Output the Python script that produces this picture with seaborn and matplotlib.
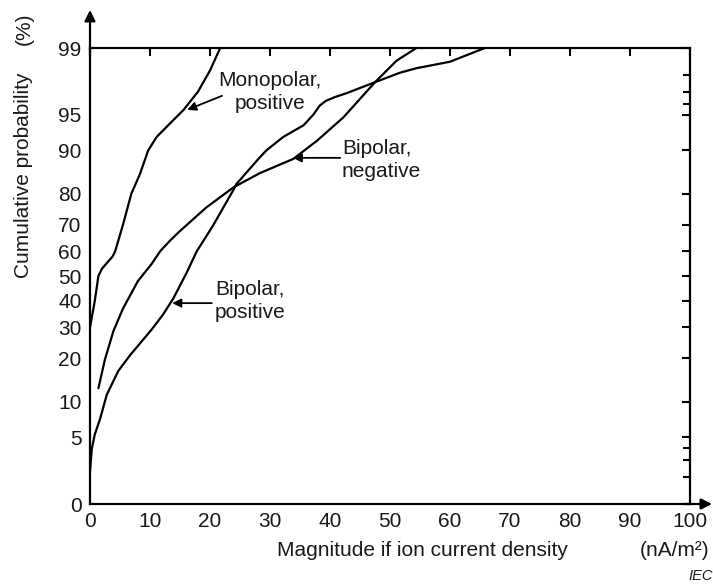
import numpy as np
import pandas as pd
import seaborn as sns
import matplotlib.pyplot as plt
from matplotlib.ticker import NullFormatter
from statistics import NormalDist

# curves: x in nA/m2, cumulative probability in %
mono_x = [0, 0.8, 1.4, 2.0, 3.8, 4.2, 5.5, 6.9, 8.3, 9.7, 11.1, 13.3, 15.6, 18.0, 20.0, 21.7]
mono_p = [30, 40, 50, 53, 58, 60, 70, 80, 85, 90, 92.2, 94.0, 95.5, 97.0, 98.2, 99]

bneg_x = [1.4, 2.5, 3.9, 5.5, 8.0, 10.3, 11.7, 13.3, 15.0, 19.4, 23.9, 28.3, 33.9, 37.8, 42.2, 47.5, 51.1, 54.4]
bneg_p = [12.6, 19.8, 28.7, 37, 48, 55, 60, 64, 67.7, 75.8, 81.7, 85.3, 88.4, 91.6, 94.7, 97.6, 98.6, 99]

bpos_x = [0, 0.3, 0.8, 1.7, 2.8, 4.7, 6.7, 10.3, 12.2, 13.9, 16.1, 17.8, 18.9, 20.6, 23.9, 24.4,
          28.3, 29.4, 32.2, 35.6, 37.2, 38.3, 39.3, 40.8, 42.8, 47.5, 51.7, 54.4, 60.0, 65.8]
bpos_p = [2.3, 3.9, 5.3, 7.3, 11.3, 16.6, 21, 29.3, 34.8, 41, 51.3, 60, 64, 70, 81, 82.6,
          88.7, 90, 92.2, 93.8, 95.0, 95.9, 96.3, 96.6, 96.9, 97.6, 98.1, 98.3, 98.56, 99]

y_major = [1, 5, 10, 20, 30, 40, 50, 60, 70, 80, 90, 95, 99]
y_labels = ['0', '5', '10', '20', '30', '40', '50', '60', '70', '80', '90', '95', '99']
y_minor = [2, 3, 4, 96, 97, 98]
x_ticks = list(range(0, 101, 10))

df = pd.concat([
    pd.DataFrame({'x': mono_x, 'p': mono_p, 'curve': 'Monopolar, positive'}),
    pd.DataFrame({'x': bneg_x, 'p': bneg_p, 'curve': 'Bipolar, negative'}),
    pd.DataFrame({'x': bpos_x, 'p': bpos_p, 'curve': 'Bipolar, positive'}),
], ignore_index=True)

sns.set_style('white')
plt.rcParams['font.family'] = ['Liberation Sans', 'DejaVu Sans']
ink = '#1a1a1a'
fs = 15

nd = NormalDist()
_ppf = np.vectorize(nd.inv_cdf, otypes=[float])
_cdf = np.vectorize(nd.cdf, otypes=[float])


def fwd(p):
    p = np.clip(np.asarray(p, dtype=float) / 100.0, 1e-7, 1 - 1e-7)
    return _ppf(p)


def inv(z):
    return _cdf(np.asarray(z, dtype=float)) * 100.0


fig = plt.figure(figsize=(7.13, 5.84), dpi=100)
ax = fig.add_axes([90 / 713, 80 / 584, 600 / 713, 456 / 584])
ax.set_yscale('function', functions=(fwd, inv))

sns.lineplot(data=df, x='x', y='p', units='curve', estimator=None, sort=False,
             color='black', lw=1.6, ax=ax)

ax.set_xlim(0, 100)
ax.set_ylim(1, 99)
ax.set_xticks(x_ticks)
ax.set_yticks(y_major)
ax.set_yticklabels(y_labels)
ax.set_yticks(y_minor, minor=True)
ax.yaxis.set_minor_formatter(NullFormatter())
ax.set_xlabel('')
ax.set_ylabel('')

for s in ax.spines.values():
    s.set_linewidth(1.6)
    s.set_color('black')
ax.tick_params(which='both', direction='in', top=True, right=True, width=1.5,
               color='black', labelcolor=ink, labelsize=fs, pad=6)
ax.tick_params(which='major', length=6)
ax.tick_params(which='minor', length=5)

# axis arrows
ax.annotate('', xy=(0, 1 + 38 / 456), xytext=(0, 0.99), xycoords='axes fraction',
            arrowprops=dict(arrowstyle='-|>', lw=1.6, color='black', mutation_scale=16,
                            shrinkA=0, shrinkB=0), annotation_clip=False)
ax.annotate('', xy=(1 + 22 / 600, 0), xytext=(0.99, 0), xycoords='axes fraction',
            arrowprops=dict(arrowstyle='-|>', lw=1.6, color='black', mutation_scale=16,
                            shrinkA=0, shrinkB=0), annotation_clip=False)

# curve labels
arrow = dict(arrowstyle='-|>', lw=1.3, color='black', mutation_scale=13, shrinkA=0, shrinkB=0)
ax.annotate('', xy=(16.2, 95.5), xytext=(22.0, 96.7), arrowprops=arrow)
ax.annotate('', xy=(33.8, 88.6), xytext=(41.7, 88.6), arrowprops=arrow)
ax.annotate('', xy=(13.7, 39.1), xytext=(20.3, 39.1), arrowprops=arrow)

W, H = 713, 584
fig.text(270 / W, 1 - 92 / H, 'Monopolar,\npositive', ha='center', va='center',
         multialignment='center', fontsize=fs, color=ink, linespacing=1.25)
fig.text(342 / W, 1 - 160 / H, 'Bipolar,\nnegative', ha='left', va='center',
         fontsize=fs, color=ink, linespacing=1.25)
fig.text(215 / W, 1 - 301 / H, 'Bipolar,\npositive', ha='left', va='center',
         fontsize=fs, color=ink, linespacing=1.25)

fig.text(24 / W, 1 - 175 / H, 'Cumulative probability', rotation=90,
         ha='center', va='center', fontsize=fs, color=ink)
fig.text(24 / W, 1 - 29 / H, '(%)', rotation=90,
         ha='center', va='center', fontsize=fs, color=ink)
fig.text(277 / W, 1 - 551 / H, 'Magnitude if ion current density',
         ha='left', va='center', fontsize=fs, color=ink)
fig.text(709 / W, 1 - 551 / H, '(nA/m²)',
         ha='right', va='center', fontsize=fs, color=ink)
fig.text(688 / W, 1 - 576 / H, 'IEC', ha='left', va='center', fontsize=10.5,
         style='italic', color=ink)

fig.savefig('out.png', dpi=100)
